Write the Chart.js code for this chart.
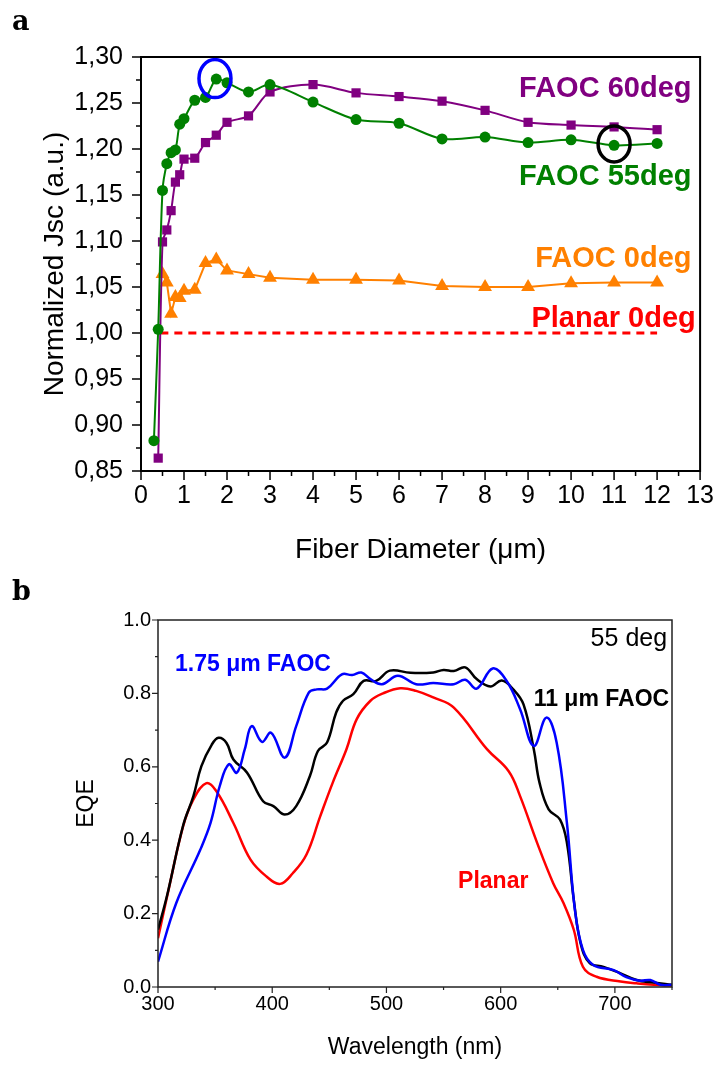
<!DOCTYPE html>
<html>
<head>
<meta charset="utf-8">
<script src="https://cdn.jsdelivr.net/npm/chart.js@4.4.1/dist/chart.umd.min.js"></script>
<style>
body{margin:0;background:#fff;width:724px;height:1066px;position:relative;overflow:hidden}
.panel{position:absolute;left:0}
.tag{position:absolute;font:bold 27px "DejaVu Serif",serif;line-height:1;color:#000}
</style>
</head>
<body>
<div class="panel" style="top:0"><canvas id="chartA" width="724" height="580"></canvas></div>
<div class="panel" style="top:580px"><canvas id="chartB" width="724" height="486"></canvas></div>
<div class="tag" style="left:12px;top:7px">a</div>
<div class="tag" style="left:12px;top:577px">b</div>
<script>
// ---- panel a : normalized Jsc vs fiber diameter ----
var d55 = [0.3,0.4,0.5,0.6,0.7,0.8,0.9,1.0,1.25,1.5,1.75,2,2.5,3,4,5,6,7,8,9,10,11,12];
var jsc55 = [0.883,1.004,1.155,1.184,1.196,1.199,1.227,1.233,1.253,1.256,1.276,1.272,1.262,1.270,1.251,1.232,1.228,1.211,1.213,1.207,1.210,1.204,1.206];
var d60 = [0.4,0.5,0.6,0.7,0.8,0.9,1.0,1.25,1.5,1.75,2,2.5,3,4,5,6,7,8,9,10,11,12];
var jsc60 = [0.864,1.099,1.112,1.133,1.164,1.172,1.189,1.190,1.207,1.215,1.229,1.236,1.262,1.270,1.261,1.257,1.252,1.242,1.229,1.226,1.224,1.221];
var d0 = [0.5,0.6,0.7,0.8,0.9,1.0,1.25,1.5,1.75,2,2.5,3,4,5,6,7,8,9,10,11,12];
var jsc0 = [1.064,1.055,1.021,1.039,1.038,1.046,1.047,1.076,1.080,1.068,1.064,1.060,1.058,1.058,1.057,1.051,1.050,1.050,1.054,1.055,1.055];
var dPlanar = [0.45,12];
var jscPlanar = [1.0,1.0];

// ---- panel b : EQE spectra at 55 deg ----
var wlPlanar = [300,308,322,331,342,351,366,381,395,407,418,430,442,453,465,474,486,497,512,526,541,559,588,607,617,632,646,655,664,672,684,705,719,734,750];
var eqePlanar = [0.133,0.247,0.438,0.511,0.555,0.534,0.447,0.347,0.301,0.281,0.31,0.361,0.465,0.557,0.648,0.73,0.78,0.80,0.814,0.807,0.789,0.761,0.648,0.588,0.52,0.392,0.283,0.229,0.156,0.055,0.028,0.015,0.01,0.006,0.004];
var wl11 = [300,308,322,331,338,347,353,360,366,378,392,401,411,421,433,440,448,456,462,471,480,491,503,521,541,550,559,569,579,591,601,611,620,629,634,642,652,658,664,670,678,690,705,719,734,750];
var eqe11 = [0.156,0.25,0.44,0.52,0.602,0.66,0.679,0.665,0.62,0.584,0.506,0.493,0.47,0.493,0.575,0.643,0.666,0.748,0.78,0.798,0.834,0.834,0.862,0.856,0.857,0.864,0.861,0.871,0.839,0.819,0.835,0.811,0.77,0.648,0.557,0.484,0.456,0.393,0.238,0.119,0.065,0.055,0.037,0.019,0.012,0.006];
var wl175 = [300,316,337,346,354,362,369,376,382,391,399,411,421,432,439,448,461,470,478,486,496,510,526,541,559,569,579,593,605,617,629,640,649,658,665,672,681,699,710,722,731,740,750];
var eqe175 = [0.069,0.229,0.374,0.447,0.547,0.607,0.584,0.648,0.711,0.668,0.693,0.625,0.711,0.802,0.811,0.813,0.852,0.85,0.857,0.839,0.825,0.848,0.825,0.828,0.825,0.837,0.813,0.868,0.835,0.757,0.657,0.734,0.666,0.447,0.21,0.101,0.06,0.046,0.027,0.017,0.019,0.006,0.006];

var FONT = '"Liberation Sans", Arial, sans-serif';

function pts(xs, ys) {
  return xs.map(function (x, i) { return {x: x, y: ys[i]}; });
}

// frame + outward major/minor tick marks
var tickMarks = {
  id: 'tickMarks',
  afterDraw: function (chart, args, o) {
    var ctx = chart.ctx, a = chart.chartArea;
    var xs = chart.scales.x, ys = chart.scales.y;
    ctx.save();
    ctx.strokeStyle = o.color;
    ctx.lineWidth = o.frame;
    ctx.strokeRect(a.left, a.top, a.right - a.left, a.bottom - a.top);
    ctx.lineWidth = o.width;
    ctx.beginPath();
    xs.ticks.forEach(function (t) {
      var p = xs.getPixelForValue(t.value);
      var len = t.label !== '' ? o.major : o.minor;
      ctx.moveTo(p, a.bottom); ctx.lineTo(p, a.bottom + len);
    });
    ys.ticks.forEach(function (t) {
      var p = ys.getPixelForValue(t.value);
      var len = t.label !== '' ? o.major : o.minor;
      ctx.moveTo(a.left, p); ctx.lineTo(a.left - len, p);
    });
    ctx.stroke();
    ctx.restore();
  }
};

// text labels and rings placed in data coordinates
var notes = {
  id: 'notes',
  afterDatasetsDraw: function (chart, args, o) {
    var ctx = chart.ctx, xs = chart.scales.x, ys = chart.scales.y;
    ctx.save();
    (o.rings || []).forEach(function (r) {
      ctx.beginPath();
      ctx.ellipse(xs.getPixelForValue(r.x), ys.getPixelForValue(r.y), r.rx, r.ry, 0, 0, Math.PI * 2);
      ctx.strokeStyle = r.color;
      ctx.lineWidth = r.width;
      ctx.stroke();
    });
    (o.texts || []).forEach(function (t) {
      ctx.font = t.font;
      ctx.fillStyle = t.color;
      ctx.textAlign = t.align;
      ctx.textBaseline = 'alphabetic';
      ctx.fillText(t.text, xs.getPixelForValue(t.x), ys.getPixelForValue(t.y));
    });
    ctx.restore();
  }
};

new Chart(document.getElementById('chartA'), {
  type: 'line',
  data: {
    datasets: [
      {label: 'FAOC 55deg', data: pts(d55, jsc55), borderColor: '#008000', backgroundColor: '#008000',
       borderWidth: 2, tension: 0.3, pointStyle: 'circle', pointRadius: 5.5, pointBorderWidth: 0},
      {label: 'FAOC 60deg', data: pts(d60, jsc60), borderColor: '#800080', backgroundColor: '#800080',
       borderWidth: 2, tension: 0.3, pointStyle: 'rect', pointRadius: 6.5, pointBorderWidth: 0},
      {label: 'FAOC 0deg', data: pts(d0, jsc0), borderColor: '#ff8000', backgroundColor: '#ff8000',
       borderWidth: 2, tension: 0, pointStyle: 'triangle', pointRadius: 8, pointBorderWidth: 0},
      {label: 'Planar 0deg', data: pts(dPlanar, jscPlanar), borderColor: '#ff0000',
       borderWidth: 3, borderDash: [8, 6], pointRadius: 0}
    ]
  },
  options: {
    responsive: false,
    animation: false,
    layout: {padding: {left: 0, right: 16, top: 57, bottom: 0}},
    plugins: {
      legend: {display: false},
      tooltip: {enabled: false},
      tickMarks: {color: '#000', frame: 2, width: 1.5, major: 9, minor: 5},
      notes: {
        rings: [
          {x: 1.72, y: 1.2765, rx: 16, ry: 19, color: '#0000ff', width: 3.5},
          {x: 11.0, y: 1.2055, rx: 16, ry: 18, color: '#000', width: 3.5}
        ],
        texts: [
          {text: 'FAOC 60deg', x: 12.8, y: 1.2568, align: 'right', color: '#800080', font: 'bold 29px ' + FONT},
          {text: 'FAOC 55deg', x: 12.8, y: 1.1609, align: 'right', color: '#008000', font: 'bold 29px ' + FONT},
          {text: 'FAOC 0deg', x: 12.8, y: 1.0721, align: 'right', color: '#ff8000', font: 'bold 29px ' + FONT},
          {text: 'Planar 0deg', x: 12.9, y: 1.0068, align: 'right', color: '#ff0000', font: 'bold 29px ' + FONT}
        ]
      }
    },
    scales: {
      x: {
        type: 'linear', min: 0, max: 13,
        afterFit: function (s) { s.height = 109; },
        grid: {display: false, drawTicks: false}, border: {display: false},
        ticks: {stepSize: 0.5, autoSkip: false, maxRotation: 0, padding: 10, color: '#000',
                font: {family: FONT, size: 25},
                callback: function (v) { return Number.isInteger(v) ? String(v) : ''; }},
        title: {display: true, text: 'Fiber Diameter (μm)', color: '#000',
                font: {family: FONT, size: 28}, padding: {top: 0, bottom: 13}}
      },
      y: {
        type: 'linear', min: 0.85, max: 1.30,
        afterFit: function (s) { s.width = 141; },
        grid: {display: false, drawTicks: false}, border: {display: false},
        ticks: {stepSize: 0.025, autoSkip: false, padding: 18, color: '#000',
                font: {family: FONT, size: 25},
                callback: function (v) { return Math.round(v * 1000) % 50 === 0 ? v.toFixed(2).replace('.', ',') : ''; }},
        title: {display: true, text: 'Normalized Jsc (a.u.)', color: '#000',
                font: {family: FONT, size: 28}, padding: {top: 38, bottom: 0}}
      }
    }
  },
  plugins: [tickMarks, notes]
});

new Chart(document.getElementById('chartB'), {
  type: 'line',
  data: {
    datasets: [
      {label: '1.75 μm FAOC', data: pts(wl175, eqe175), borderColor: '#0000ff', borderWidth: 2.5, tension: 0.4, pointRadius: 0},
      {label: '11 μm FAOC', data: pts(wl11, eqe11), borderColor: '#000000', borderWidth: 2.5, tension: 0.4, pointRadius: 0},
      {label: 'Planar', data: pts(wlPlanar, eqePlanar), borderColor: '#ff0000', borderWidth: 2.5, tension: 0.4, pointRadius: 0}
    ]
  },
  options: {
    responsive: false,
    animation: false,
    layout: {padding: {left: 0, right: 52, top: 40, bottom: 0}},
    plugins: {
      legend: {display: false},
      tooltip: {enabled: false},
      tickMarks: {color: '#222', frame: 1.5, width: 1.2, major: 6, minor: 3},
      notes: {
        texts: [
          {text: '55 deg', x: 745.7, y: 0.929, align: 'right', color: '#000', font: '25px ' + FONT},
          {text: '11 μm FAOC', x: 747.5, y: 0.765, align: 'right', color: '#000', font: 'bold 23px ' + FONT},
          {text: '1.75 μm FAOC', x: 314.9, y: 0.861, align: 'left', color: '#0000ff', font: 'bold 23px ' + FONT},
          {text: 'Planar', x: 562.7, y: 0.270, align: 'left', color: '#ff0000', font: 'bold 23px ' + FONT}
        ]
      }
    },
    scales: {
      x: {
        type: 'linear', min: 300, max: 750,
        afterFit: function (s) { s.height = 79; },
        grid: {display: false, drawTicks: false}, border: {display: false},
        ticks: {stepSize: 50, autoSkip: false, maxRotation: 0, padding: 5, color: '#000',
                font: {family: FONT, size: 20},
                callback: function (v) { return v % 100 === 0 ? String(v) : ''; }},
        title: {display: true, text: 'Wavelength (nm)', color: '#000',
                font: {family: FONT, size: 23}, padding: {top: 0, bottom: 5}}
      },
      y: {
        type: 'linear', min: 0, max: 1,
        afterFit: function (s) { s.width = 158; },
        grid: {display: false, drawTicks: false}, border: {display: false},
        ticks: {stepSize: 0.1, autoSkip: false, padding: 7, color: '#000',
                font: {family: FONT, size: 20},
                callback: function (v) { return Math.round(v * 10) % 2 === 0 ? v.toFixed(1) : ''; }},
        title: {display: true, text: 'EQE', color: '#000',
                font: {family: FONT, size: 23}, padding: {top: 73, bottom: 0}}
      }
    }
  },
  plugins: [tickMarks, notes]
});
</script>
</body>
</html>
